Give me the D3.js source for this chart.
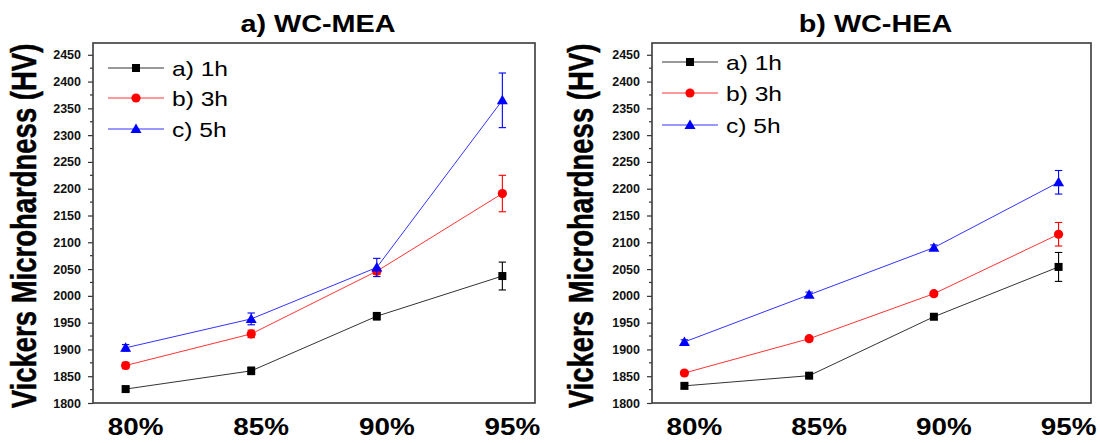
<!DOCTYPE html>
<html><head><meta charset="utf-8">
<script src="https://cdn.jsdelivr.net/npm/d3@7/dist/d3.min.js"></script>
<style>body{margin:0;background:#fff}svg{display:block}text{font-family:"Liberation Sans",Arial,sans-serif}</style>
</head><body>
<svg id="c" width="1100" height="443"></svg>
<script>
const categories = ["80%", "85%", "90%", "95%"];
const seriesNames = ["a) 1h", "b) 3h", "c) 5h"];
const yTicks = [1800,1850,1900,1950,2000,2050,2100,2150,2200,2250,2300,2350,2400,2450];

const meaTitle = "a) WC-MEA";
const mea1h = [1826, 1860, 1962, 2037];
const mea3h = [1870, 1929, 2046, 2191];
const mea5h = [1903, 1957, 2053, 2365];
const mea1hErr = [4, 7, 7, 26];
const mea3hErr = [6, 7, 6, 34];
const mea5hErr = [6, 11, 17, 51];

const heaTitle = "b) WC-HEA";
const hea1h = [1832, 1851, 1961, 2054];
const hea3h = [1856, 1920, 2004, 2115];
const hea5h = [1914, 2002, 2090, 2212];
const hea1hErr = [4, 4, 5, 27];
const hea3hErr = [4, 4, 4, 22];
const hea5hErr = [4, 5, 5, 22];

const yTitle = "Vickers Microhardness (HV)";

const colors = ["#000000", "#ff0000", "#0000ff"];
const shapes = ["square", "circle", "triangle"];

const svg = d3.select("#c");
const plotTop = 43, plotBottom = 403;
const y = d3.scaleLinear().domain([1800, 2472]).range([plotBottom, plotTop]);

const panels = [
  {title: meaTitle, vals: [mea1h, mea3h, mea5h], errs: [mea1hErr, mea3hErr, mea5hErr], left: 93, right: 535, legX: 15, legY: [68, 98, 129], ytx: 26},
  {title: heaTitle, vals: [hea1h, hea3h, hea5h], errs: [hea1hErr, hea3hErr, hea5hErr], left: 652, right: 1091, legX: 10, legY: [62, 93, 125], ytx: 583}
];

function stretchText(g, x, yy, str, size, weight, sx, anchor) {
  return g.append("text")
    .attr("transform", `translate(${x},${yy}) scale(${sx},1)`)
    .attr("text-anchor", anchor)
    .attr("font-size", size)
    .attr("font-weight", weight)
    .attr("fill", "#000")
    .text(str);
}

function marker(g, shape, cx, cy, color) {
  if (shape === "square") {
    g.append("rect").attr("x", cx - 4).attr("y", cy - 4).attr("width", 8).attr("height", 8).attr("fill", color);
  } else if (shape === "circle") {
    g.append("circle").attr("cx", cx).attr("cy", cy).attr("r", 4.6).attr("fill", color);
  } else {
    g.append("path").attr("d", `M${cx},${cy - 5.5}L${cx + 5.5},${cy + 4}L${cx - 5.5},${cy + 4}Z`).attr("fill", color);
  }
}

panels.forEach(p => {
  const g = svg.append("g");
  const x = d3.scalePoint().domain(categories).range([p.left, p.right]).padding(0.26);

  const yAxis = d3.axisLeft(y).tickValues(yTicks).tickSize(5).tickPadding(7).tickFormat(d3.format("d"));
  const ya = g.append("g").attr("transform", `translate(${p.left},0)`).call(yAxis);
  ya.select(".domain").remove();
  ya.selectAll("line").attr("stroke", "#333").attr("stroke-width", 1.2);
  ya.selectAll("text").attr("font-size", 12.5).attr("font-weight", "bold").attr("fill", "#111");
  const minor = yTicks.map(v => v + 25).filter(v => y(v) >= plotTop);
  g.selectAll(".minor").data(minor).enter().append("line")
    .attr("x1", p.left - 3).attr("x2", p.left).attr("y1", d => y(d)).attr("y2", d => y(d))
    .attr("stroke", "#333").attr("stroke-width", 1.2);

  g.append("rect").attr("x", p.left).attr("y", plotTop).attr("width", p.right - p.left).attr("height", plotBottom - plotTop)
    .attr("fill", "none").attr("stroke", "#3a3a3a").attr("stroke-width", 1.6);

  categories.forEach(c => {
    stretchText(g, x(c) + 10, 435, c, 24, "bold", 1.16, "middle");
  });

  stretchText(g, (p.left + p.right) / 2 + 4, 32, p.title, 24, "bold", 1.2, "middle");

  g.append("text")
    .attr("transform", `translate(${p.ytx + 10},${(plotTop + plotBottom) / 2 + 3}) rotate(-90) scale(1,1.25)`)
    .attr("text-anchor", "middle").attr("font-size", 27.5).attr("font-weight", "bold").attr("fill", "#000")
    .attr("stroke", "#000").attr("stroke-width", 0.4)
    .text(yTitle);

  p.vals.forEach((vals, si) => {
    const col = colors[si];
    const line = d3.line().x((d, i) => x(categories[i])).y(d => y(d));
    g.append("path").attr("d", line(vals)).attr("fill", "none").attr("stroke", col).attr("stroke-width", 1).attr("stroke-opacity", 0.8);
    vals.forEach((v, i) => {
      const cx = x(categories[i]), e = p.errs[si][i];
      const y1 = y(v + e), y2 = y(v - e);
      g.append("line").attr("x1", cx).attr("x2", cx).attr("y1", y1).attr("y2", y2).attr("stroke", col).attr("stroke-width", 1.1);
      [y1, y2].forEach(yy => g.append("line").attr("x1", cx - 3.7).attr("x2", cx + 3.7).attr("y1", yy).attr("y2", yy).attr("stroke", col).attr("stroke-width", 1.1));
      marker(g, shapes[si], cx, y(v), col);
    });
  });

  seriesNames.forEach((s, si) => {
    const ly = p.legY[si];
    const lx = p.left + p.legX;
    g.append("line").attr("x1", lx).attr("x2", lx + 56).attr("y1", ly).attr("y2", ly).attr("stroke", colors[si]).attr("stroke-width", 1).attr("stroke-opacity", 0.8);
    marker(g, shapes[si], lx + 28, ly, colors[si]);
    stretchText(g, lx + 64, ly + 7.5, s, 20.5, "normal", 1.2, "start");
  });
});
</script>
</body></html>
